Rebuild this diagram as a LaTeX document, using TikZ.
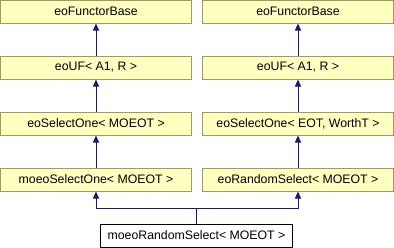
\documentclass[tikz,border=0pt]{standalone}
\usepackage{fontspec}
\setmainfont{Liberation Sans}
\usetikzlibrary{arrows.meta}

\definecolor{boxfill}{RGB}{255,255,192}
\definecolor{boxline}{RGB}{155,155,100}
\definecolor{edgeblue}{RGB}{25,25,112}

\tikzset{
    classbox/.style={draw=boxline, fill=boxfill, line width=1bp, inner sep=0pt,
        minimum width=191bp, minimum height=23bp,
        font=\fontsize{12.3bp}{14bp}\selectfont},
    thisbox/.style={classbox, draw=black, fill=white, minimum width=192bp},
    inherit/.style={edgeblue, line width=1bp, -{Triangle[length=7bp, width=6bp]}}
}

\begin{document}
\begin{tikzpicture}[x=1bp, y=-1bp]
    % Row distance and column centres
    \def\rowgap{56}
    \def\leftx{96}
    \def\rightx{298}

    \useasboundingbox (0, 0) rectangle (394, 248);

    % Left chain
    \node[classbox] (baseL) at (\leftx, 11.5) {eoFunctorBase};
    \node[classbox] (ufL) at (\leftx, 11.5 + \rowgap) {eoUF< A1, R >};
    \node[classbox] (selL) at (\leftx, 11.5 + 2 * \rowgap) {eoSelectOne< MOEOT >};
    \node[classbox] (moeoSel) at (\leftx, 11.5 + 3 * \rowgap) {moeoSelectOne< MOEOT >};

    % Right chain
    \node[classbox] (baseR) at (\rightx, 11.5) {eoFunctorBase};
    \node[classbox] (ufR) at (\rightx, 11.5 + \rowgap) {eoUF< A1, R >};
    \node[classbox] (selR) at (\rightx, 11.5 + 2 * \rowgap) {eoSelectOne< EOT, WorthT >};
    \node[classbox] (randSel) at (\rightx, 11.5 + 3 * \rowgap) {eoRandomSelect< MOEOT >};

    % The class itself
    \node[thisbox] (moeoRand) at (196.5, 11.5 + 4 * \rowgap) {moeoRandomSelect< MOEOT >};

    % Inheritance edges
    \draw[inherit] (ufL.north) -- (baseL.south);
    \draw[inherit] (selL.north) -- (ufL.south);
    \draw[inherit] (moeoSel.north) -- (selL.south);
    \draw[inherit] (ufR.north) -- (baseR.south);
    \draw[inherit] (selR.north) -- (ufR.south);
    \draw[inherit] (randSel.north) -- (selR.south);

    \coordinate (split) at (196.5, 208);
    \draw[inherit] (moeoRand.north) -- (split) -| (moeoSel.south);
    \draw[inherit] (moeoRand.north) -- (split) -| (randSel.south);
\end{tikzpicture}
\end{document}
